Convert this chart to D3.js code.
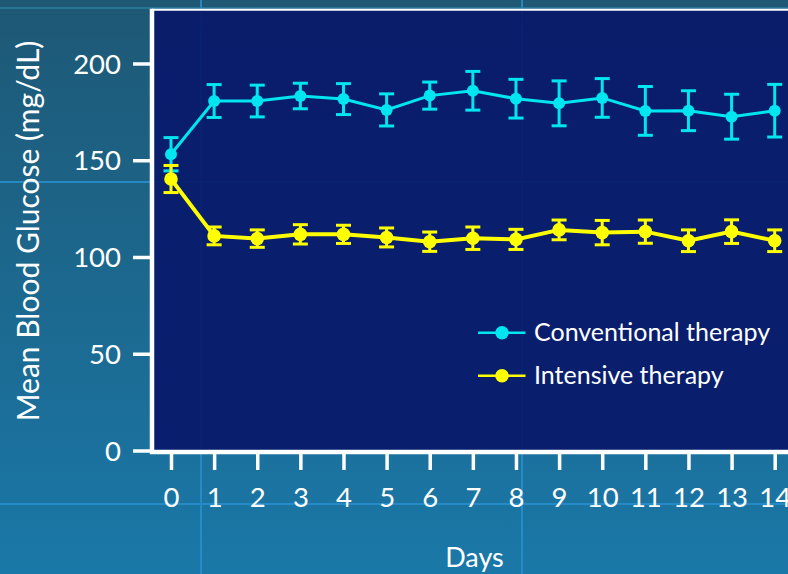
<!DOCTYPE html>
<html><head><meta charset="utf-8">
<script src="https://cdnjs.cloudflare.com/ajax/libs/d3/7.8.5/d3.min.js"></script>
<style>html,body{margin:0;padding:0;background:#1c6a92;overflow:hidden}</style>
</head><body>
<svg id="c" width="788" height="574"></svg>
<script>
const days = [0,1,2,3,4,5,6,7,8,9,10,11,12,13,14];
const conventionalMean = [153.1,180.6,180.6,183.2,181.6,176.0,183.4,185.9,181.8,179.4,182.2,175.5,175.6,172.5,175.6];
const conventionalErr  = [8.6,8.5,8.2,6.6,8.0,8.3,7.0,10.0,10.0,11.6,10.0,12.6,10.3,11.6,13.6];
const intensiveMean = [140.3,110.9,109.5,111.7,111.7,110.1,107.9,109.7,109.1,114.0,112.6,113.1,108.4,113.1,108.4];
const intensiveErr  = [7.0,4.6,4.5,5.0,4.7,4.9,5.0,5.8,5.2,5.1,6.3,6.0,5.6,6.1,5.6];
const yTicks = [0,50,100,150,200];
const seriesNames = ["Conventional therapy","Intensive therapy"];
const seriesColors = ["#00e6f0","#ffff00"];

(function(){
const svg = d3.select("#c");
const W = 788, H = 574;
const FONT = "Lato, 'Open Sans', sans-serif";

const defs = svg.append("defs");
const g1 = defs.append("linearGradient").attr("id","bg").attr("x1",0).attr("y1",0).attr("x2",0).attr("y2",1);
g1.append("stop").attr("offset","0%").attr("stop-color","#1e5875");
g1.append("stop").attr("offset","100%").attr("stop-color","#1a78a8");
svg.append("rect").attr("width",W).attr("height",H).attr("fill","url(#bg)");

const deco = svg.append("g").attr("stroke","#2a8fcf").attr("stroke-width",2).attr("opacity",0.85);
[201,522].forEach(v=>deco.append("line").attr("x1",v).attr("x2",v).attr("y1",0).attr("y2",H));
[182,504].forEach(v=>deco.append("line").attr("x1",0).attr("x2",W).attr("y1",v).attr("y2",v));
svg.append("line").attr("x1",0).attr("x2",W).attr("y1",8).attr("y2",8).attr("stroke","#2b7f9f").attr("stroke-width",1.5);

const x = d3.scaleLinear().domain([0,14]).range([171,774.7]);
const y = d3.scaleLinear().domain([0,228]).range([450.5,9.3]);

const pLeft = 152, pTop = y(228), pBottom = y(0);

svg.append("rect").attr("x",pLeft).attr("y",pTop).attr("width",W-pLeft+5).attr("height",pBottom-pTop)
  .attr("fill","#08196b").attr("opacity",0.93);
svg.append("line").attr("x1",pLeft).attr("x2",W).attr("y1",pTop+0.5).attr("y2",pTop+0.5).attr("stroke","#fff").attr("stroke-width",2);

const yAxis = d3.axisLeft(y).tickValues(yTicks).tickSize(19).tickPadding(12).tickFormat(d3.format("d"));
const ya = svg.append("g").attr("transform",`translate(${pLeft},0)`).call(yAxis);
ya.select(".domain").remove();
ya.selectAll(".tick line").attr("stroke","#fff").attr("stroke-width",3.5);
ya.selectAll(".tick text").attr("fill","#fff").attr("font-family",FONT).attr("font-size",27.5).attr("dy","0.35em");

const xAxis = d3.axisBottom(x).tickValues(days).tickSize(18).tickPadding(17).tickFormat(d3.format("d"));
const xa = svg.append("g").attr("transform",`translate(0,${pBottom+1.5})`).call(xAxis);
xa.select(".domain").remove();
xa.selectAll(".tick line").attr("stroke","#fff").attr("stroke-width",3.5);
xa.selectAll(".tick text").attr("fill","#fff").attr("font-family",FONT).attr("font-size",27.5);

svg.append("line").attr("x1",pLeft).attr("x2",pLeft).attr("y1",pTop-0.5).attr("y2",pBottom+3.5).attr("stroke","#fff").attr("stroke-width",4.5);
svg.append("line").attr("x1",pLeft-2).attr("x2",W).attr("y1",pBottom+1.5).attr("y2",pBottom+1.5).attr("stroke","#fff").attr("stroke-width",4.5);

svg.append("text").attr("transform",`translate(39,231) rotate(-90)`).attr("text-anchor","middle")
  .attr("fill","#fff").attr("font-family",FONT).attr("font-size",30).text("Mean Blood Glucose (mg/dL)");
svg.append("text").attr("x",474.5).attr("y",567).attr("text-anchor","middle")
  .attr("fill","#fff").attr("font-family",FONT).attr("font-size",27).text("Days");

const series = [
  {name:seriesNames[0], color:seriesColors[0], mean:conventionalMean, err:conventionalErr, lw:3, r:6, cap:7.5},
  {name:seriesNames[1], color:seriesColors[1], mean:intensiveMean, err:intensiveErr, lw:4, r:6.8, cap:7.5}
];
series.forEach(s=>{
  const g = svg.append("g");
  const pts = days.map((d,i)=>({d, m:s.mean[i], e:s.err[i]}));
  g.selectAll("line.eb").data(pts).join("line").attr("x1",p=>x(p.d)).attr("x2",p=>x(p.d))
    .attr("y1",p=>y(p.m+p.e)).attr("y2",p=>y(p.m-p.e)).attr("stroke",s.color).attr("stroke-width",3);
  [1,-1].forEach(sg=>{
    g.append("g").selectAll("line").data(pts).join("line")
      .attr("x1",p=>x(p.d)-s.cap).attr("x2",p=>x(p.d)+s.cap)
      .attr("y1",p=>y(p.m+sg*p.e)).attr("y2",p=>y(p.m+sg*p.e))
      .attr("stroke",s.color).attr("stroke-width",3);
  });
  g.append("path").datum(pts).attr("fill","none").attr("stroke",s.color).attr("stroke-width",s.lw)
    .attr("d",d3.line().x(p=>x(p.d)).y(p=>y(p.m)));
  g.append("g").selectAll("circle").data(pts).join("circle").attr("cx",p=>x(p.d)).attr("cy",p=>y(p.m)).attr("r",s.r).attr("fill",s.color);
});

const legY = [332.7, 375.7];
series.forEach((s,i)=>{
  const lg = svg.append("g");
  lg.append("line").attr("x1",478).attr("x2",525.5).attr("y1",legY[i]).attr("y2",legY[i]).attr("stroke",s.color).attr("stroke-width",2.5);
  lg.append("circle").attr("cx",502).attr("cy",legY[i]).attr("r",6.8).attr("fill",s.color);
  lg.append("text").attr("x",534).attr("y",legY[i]+8.5).attr("fill","#fff").attr("font-family",FONT).attr("font-size",25).text(s.name);
});
})();
</script>
</body></html>
